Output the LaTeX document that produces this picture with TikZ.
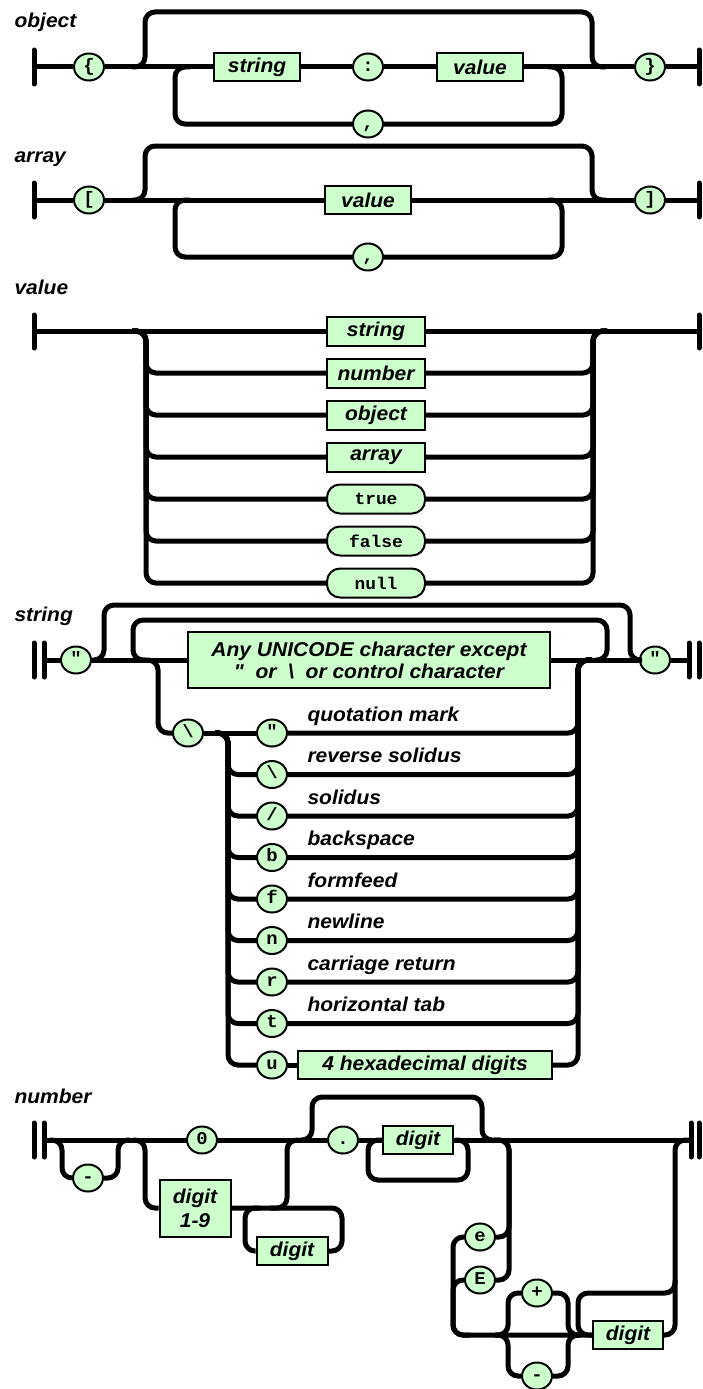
\documentclass[tikz,border=0pt]{standalone}
\usepackage{fontspec}
\setmainfont{Liberation Sans}[FakeStretch=1.05, Ligatures=TeXOff]
\setmonofont{Liberation Mono}[FakeStretch=1.05, Ligatures=TeXOff]
\usetikzlibrary{shapes.geometric}
\definecolor{termfill}{RGB}{204,255,204}
\newcommand\railfont{\fontsize{20}{22}\selectfont\bfseries\itshape}
\newcommand\charfont{\fontsize{18}{18}\selectfont\ttfamily\bfseries}
\newcommand\pillfont{\fontsize{17}{17}\selectfont\ttfamily\bfseries}
\begin{document}
\begin{tikzpicture}[x=1pt, y=-1pt, line width=5pt, rounded corners=10pt,
    ntbox/.style={draw, line width=2pt, fill=termfill, sharp corners, inner sep=0pt,
      minimum height=28pt, font=\railfont},
    lit/.style={draw, line width=2pt, fill=termfill, ellipse, inner sep=0pt,
      minimum width=30pt, minimum height=27pt, text height=11pt, text depth=3pt,
      font=\charfont},
    pill/.style={draw, line width=2pt, fill=termfill, rounded corners=13pt, inner sep=0pt,
      minimum width=98pt, minimum height=29pt, font=\pillfont},
    heading/.style={anchor=base west, inner sep=0pt, font=\railfont},
    esclabel/.style={anchor=base west, inner sep=0pt, font=\railfont},
    endbar/.style={line cap=round}]
    \useasboundingbox (0,0) rectangle (702,1389);

    \node[heading] at (12,28) {object};
    \node[lit] (ob) at (89,67) {\{};
    \node[ntbox, minimum width=86pt] (os) at (257,67) {string};
    \node[lit] (oc) at (368,67) {:};
    \node[ntbox, minimum width=86pt] (ov) at (480,67) {value};
    \node[lit] (ocm) at (368,124) {,};
    \node[lit] (oe) at (650,67) {\}};
    \coordinate (o0) at (34,67);
    \coordinate (o1) at (699,67);
    \draw[endbar] (34,50) -- (34,84);
    \draw[endbar] (699,50) -- (699,84);
    \draw[sharp corners] (o0) -- (ob) -- (os) -- (oc) -- (ov) -- (oe) -- (o1);
    \draw (132,67) -- (145,67) -- (145,12) -- (592,12) -- (592,67) -- (606,67);
    \draw (ocm.west) -- (175,124) -- (175,67) -- (190,67);
    \draw (ocm.east) -- (562,124) -- (562,67) -- (548,67);

    \node[heading] at (12,162) {array};
    \node[lit] (ab) at (89,200) {[};
    \node[ntbox, minimum width=86pt] (av) at (368,200) {value};
    \node[lit] (acm) at (368,257) {,};
    \node[lit] (ae) at (650,200) {]};
    \coordinate (a0) at (34,200);
    \coordinate (a1) at (699,200);
    \draw[endbar] (34,183) -- (34,217);
    \draw[endbar] (699,183) -- (699,217);
    \draw[sharp corners] (a0) -- (ab) -- (av) -- (ae) -- (a1);
    \draw (132,200) -- (145,200) -- (145,146) -- (592,146) -- (592,200) -- (606,200);
    \draw (acm.west) -- (175,257) -- (175,200) -- (190,200);
    \draw (acm.east) -- (562,257) -- (562,200) -- (548,200);

    \node[heading] at (12,294) {value};
    \node[ntbox, minimum width=98pt, minimum height=29pt] (vs) at (376,331) {string};
    \foreach \n/\y/\t in {vn/373/number, vo/415/object, va/457/array}
      \node[ntbox, minimum width=98pt, minimum height=29pt] (\n) at (376,\y) {\t};
    \foreach \n/\y/\t in {vt/499/true, vf/541/false, vz/583/null}
      \node[pill] (\n) at (376,\y) {\t};
    \coordinate (v0) at (34,331);
    \coordinate (v1) at (699,331);
    \draw[endbar] (34,315) -- (34,348);
    \draw[endbar] (699,315) -- (699,348);
    \draw[sharp corners] (v0) -- (vs) -- (v1);
    \foreach \n/\y in {vn/373, vo/415, va/457, vt/499, vf/541, vz/583} {
      \draw (132,331) -- (146,331) -- (146,\y) -- (\n.west);
      \draw (\n.east) -- (593,\y) -- (593,331) -- (607,331);
    }

    \node[heading] at (12,621) {string};
    \node[lit] (sq) at (76,660) {"};
    \node[ntbox, minimum width=362pt, minimum height=56pt, align=center] (su) at (369,660)
      {Any UNICODE character except\\"\ \ or\ \ \textbackslash\ \ or control character};
    \node[lit] (sqe) at (655,660) {"};
    \node[lit] (sbs) at (188,733) {\textbackslash};
    \coordinate (s0) at (44,660);
    \coordinate (s1) at (689,660);
    \draw[endbar] (34,643) -- (34,677);
    \draw[endbar] (44,643) -- (44,677);
    \draw[endbar] (689,643) -- (689,677);
    \draw[endbar] (699,643) -- (699,677);
    \draw[sharp corners] (s0) -- (sq) -- (su) -- (sqe) -- (s1);
    \draw (92,660) -- (104,660) -- (104,605) -- (630,605) -- (630,660) -- (642,660);
    \draw (595,660) -- (607,660) -- (607,620) -- (133,620) -- (133,660) -- (146,660);
    \draw (143,660) -- (158,660) -- (158,733) -- (sbs.west);
    \foreach \k/\c/\t in {0/"/quotation mark, 1/\textbackslash/reverse solidus,
        2/\slash/solidus, 3/b/backspace, 4/f/formfeed, 5/n/newline,
        6/r/carriage return, 7/t/horizontal tab, 8/u/} {
      \pgfmathsetmacro\y{733+41.5*\k}
      \node[lit] (x\k) at (272,\y) {\c};
      \node[esclabel] at (305,\y-12) {\t};
    }
    \node[ntbox, minimum width=254pt] (sh) at (425,1065) {4 hexadecimal digits};
    \draw[sharp corners] (sbs) -- (x0);
    \draw[sharp corners] (x8) -- (sh);
    \foreach \k in {1,...,8} {
      \pgfmathsetmacro\y{733+41.5*\k}
      \draw (215,733) -- (228,733) -- (228,\y) -- (x\k.west);
    }
    \foreach \k in {0,...,7} {
      \pgfmathsetmacro\y{733+41.5*\k}
      \draw (x\k.east) -- (578,\y) -- (578,660) -- (592,660);
    }
    \draw (sh.east) -- (578,1065) -- (578,660) -- (592,660);

    \node[heading] at (12,1103) {number};
    \node[lit] (nm) at (88,1178) {-};
    \node[lit] (n0) at (202,1140) {0};
    \node[ntbox, minimum width=71pt, minimum height=57pt, align=center,
      font=\fontsize{20}{24}\selectfont\bfseries\itshape] (nd19) at (195,1208) {digit\\1-9};
    \node[ntbox, minimum width=71pt] (nd) at (292,1251) {digit};
    \node[lit] (ndot) at (343,1140) {.};
    \node[ntbox, minimum width=70pt] (nfd) at (418,1140) {digit};
    \node[lit] (ne) at (480,1237) {e};
    \node[lit] (nE) at (480,1280) {E};
    \node[lit] (np) at (537,1293) {+};
    \node[lit] (nmi) at (537,1376) {-};
    \node[ntbox, minimum width=70pt] (nxd) at (628,1335) {digit};
    \coordinate (n0in) at (44,1140);
    \coordinate (n1) at (691,1140);
    \draw[endbar] (34,1123) -- (34,1157);
    \draw[endbar] (44,1123) -- (44,1157);
    \draw[endbar] (691,1123) -- (691,1157);
    \draw[endbar] (699,1123) -- (699,1157);
    \draw[sharp corners] (n0in) -- (n0) -- (ndot) -- (nfd) -- (n1);
    \draw (50,1140) -- (62,1140) -- (62,1178) -- (nm.west);
    \draw (nm.east) -- (118,1178) -- (118,1140) -- (130,1140);
    \draw (133,1140) -- (145,1140) -- (145,1208) -- (nd19.west);
    \draw (nd19.east) -- (287,1208) -- (287,1140) -- (299,1140);
    \draw (nd.west) -- (245,1251) -- (245,1208) -- (260,1208);
    \draw (nd.east) -- (342,1251) -- (342,1208) -- (270,1208);
    \draw (300,1140) -- (312,1140) -- (312,1097) -- (482,1097) -- (482,1140) -- (494,1140);
    \draw (455,1140) -- (468,1140) -- (468,1180) -- (368,1180) -- (368,1140) -- (nfd.west);
    \draw (494,1140) -- (509,1140) -- (509,1237) -- (ne.east);
    \draw (494,1140) -- (509,1140) -- (509,1280) -- (nE.east);
    \draw (ne.west) -- (453,1237) -- (453,1335) -- (nxd.west);
    \draw (nE.west) -- (453,1280) -- (453,1335) -- (470,1335);
    \draw (495,1335) -- (508,1335) -- (508,1293) -- (np.west);
    \draw (np.east) -- (568,1293) -- (568,1335) -- (580,1335);
    \draw (495,1335) -- (508,1335) -- (508,1376) -- (nmi.west);
    \draw (nmi.east) -- (568,1376) -- (568,1335) -- (580,1335);
    \draw (nxd.east) -- (675,1335) -- (675,1140) -- (n1);
    \draw (675,1280) -- (675,1293) -- (578,1293) -- (578,1335) -- (nxd.west);
\end{tikzpicture}
\end{document}
